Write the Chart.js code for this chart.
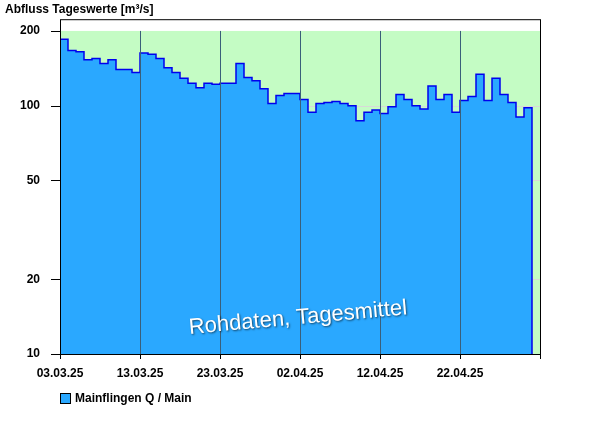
<!DOCTYPE html><html><head><meta charset="utf-8">
<script src="https://cdn.jsdelivr.net/npm/chart.js@4"></script>
<style>body{margin:0;background:#fff}#w{width:600px;height:426px}</style></head><body><div id="w"><canvas id="c"></canvas></div>
<script>
const dateLabels=['03.03.25','13.03.25','23.03.25','02.04.25','12.04.25','22.04.25'];
const values=[185,167,165,153,155,148,153,140,140,136,163,161,155,142,136,129,123,118,123,122,123,123,148,130,126,117,102,110,112,112,106,94,102,103,104,102,100,87,94,96,93,99,111,106,100,97,120,106,111,94,105,109,134,105,129,111,103,90,98];
const yTicks=[10,20,50,100,200];
const pts=values.map((v,i)=>({x:i,y:v}));pts.push({x:values.length,y:10});
const deco={id:'deco',
beforeDatasetsDraw(ch){const {ctx,chartArea:a,scales:{y}}=ch;ctx.save();ctx.fillStyle='#c4fcc4';const t=y.getPixelForValue(200);ctx.fillRect(a.left,t,a.right-a.left,a.bottom-t);
ctx.strokeStyle='#d8d8d8';ctx.lineWidth=1;[20,50,100].forEach(v=>{const p=Math.round(y.getPixelForValue(v))+.5;ctx.beginPath();ctx.moveTo(a.left,p);ctx.lineTo(a.right,p);ctx.stroke();});ctx.restore();},
afterDatasetsDraw(ch){const {ctx,chartArea:a,scales:{x,y}}=ch;ctx.save();ctx.strokeStyle='#3a5f7a';ctx.lineWidth=1;
for(let i=10;i<60;i+=10){const p=Math.round(x.getPixelForValue(i))+.5;ctx.beginPath();ctx.moveTo(p,y.getPixelForValue(200));ctx.lineTo(p,a.bottom);ctx.stroke();}
ctx.strokeStyle='#000';ctx.strokeRect(a.left+.5,a.top+.5,a.right-a.left,a.bottom-a.top);
ctx.beginPath();for(let i=0;i<=60;i+=10){const p=Math.round(x.getPixelForValue(i))+.5;ctx.moveTo(p,a.bottom);ctx.lineTo(p,a.bottom+5);}
yTicks.forEach(v=>{const p=Math.round(y.getPixelForValue(v))+.5;ctx.moveTo(a.left-9,p);ctx.lineTo(a.left,p);});ctx.stroke();
ctx.font='bold 12px Arial, Liberation Sans';ctx.fillStyle='#000';ctx.textAlign='left';ctx.textBaseline='middle';ctx.fillText('Abfluss Tageswerte [m³/s]',5,10);
ctx.fillStyle='#2aa8ff';ctx.fillRect(60,393,10,10);ctx.strokeStyle='#000';ctx.strokeRect(60.5,393.5,10,10);ctx.fillStyle='#000';ctx.fillText('Mainflingen Q / Main',75,399);
ctx.translate(298,318);ctx.rotate(-0.09);ctx.font='22px Arial, Liberation Sans';ctx.textAlign='center';ctx.shadowColor='rgba(0,0,0,0.6)';ctx.shadowOffsetX=1;ctx.shadowOffsetY=1;ctx.shadowBlur=2;ctx.fillStyle='#fff';ctx.fillText('Rohdaten, Tagesmittel',0,0);
ctx.restore();}};
new Chart(document.getElementById('c'),{type:'line',data:{datasets:[{data:pts,stepped:true,fill:'start',backgroundColor:'#2aa8ff',borderColor:'#0000ee',borderWidth:1.5,pointRadius:0}]},
options:{responsive:true,maintainAspectRatio:false,animation:false,layout:{padding:{top:18,right:60,left:0,bottom:0}},
plugins:{legend:{display:false},tooltip:{enabled:false}},
scales:{x:{type:'linear',min:0,max:60,grid:{display:false},border:{display:false},afterBuildTicks(s){s.ticks=[0,10,20,30,40,50].map(v=>({value:v}));},
ticks:{maxRotation:0,autoSkip:false,padding:4,color:'#000',font:{weight:'bold',size:12,family:'Arial, Liberation Sans'},callback:(v)=>dateLabels[v/10]},afterFit(s){s.height=72;}},
y:{type:'logarithmic',min:10,max:223,grid:{display:false},border:{display:false},afterBuildTicks(s){s.ticks=yTicks.map(v=>({value:v}));},
ticks:{padding:12,color:'#000',font:{weight:'bold',size:12,family:'Arial, Liberation Sans'},callback:v=>String(v)},afterFit(s){s.width=60;}}}},
plugins:[deco]});
</script></body></html>
